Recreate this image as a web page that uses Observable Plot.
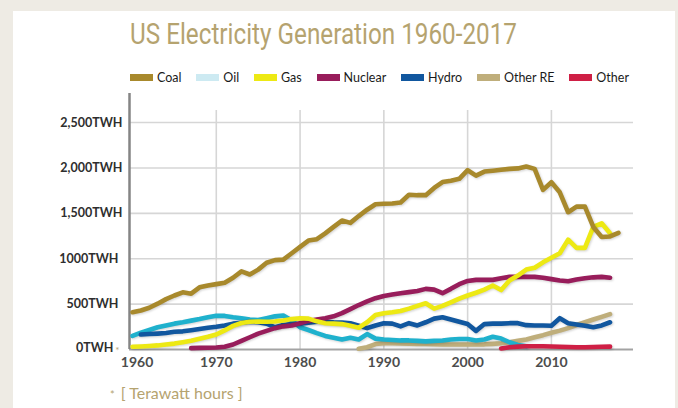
<!DOCTYPE html>
<html><head><meta charset="utf-8">
<script src="https://cdn.jsdelivr.net/npm/d3@7"></script>
<script src="https://cdn.jsdelivr.net/npm/@observablehq/plot@0.6"></script>
<style>
html,body{margin:0;padding:0;background:#eeebe4;width:678px;height:408px;overflow:hidden;font-family:Lato,"Open Sans",sans-serif;}
#panel{position:absolute;left:13px;top:11px;width:662px;height:420px;background:#fff;}
#head{position:absolute;left:0;top:0;}
#legend{position:absolute;left:130px;top:70px;width:499px;height:15px;display:flex;justify-content:space-between;align-items:center;font-size:12.5px;color:#1a1a1a;}
.item{display:flex;align-items:center;white-space:nowrap;}
.sw{width:23px;height:7px;margin-right:4px;}
#chart{position:absolute;left:0;top:88px;}
#chart g[aria-label="line"] path{filter:drop-shadow(1px 1.5px 1px rgba(0,0,0,0.18));}
#caption{position:absolute;left:110px;top:383px;font-size:16px;color:#b5a36f;white-space:nowrap;}
#caption .ast{font-size:11px;margin-right:6px;}
</style></head><body>
<div id="panel"></div>
<svg id="head" width="678" height="60"><text x="130" y="44" textLength="387" lengthAdjust="spacingAndGlyphs" font-family="Roboto" font-size="29" fill="#b5a36f">US Electricity Generation 1960-2017</text></svg>
<div id="legend"></div>
<div id="chart"></div>
<div id="caption"><span class="ast">*</span>[ Terawatt hours ]</div>
<script>
// ---- data (TWh) ----
const years = [1960,1961,1962,1963,1964,1965,1966,1967,1968,1969,
  1970,1971,1972,1973,1974,1975,1976,1977,1978,1979,
  1980,1981,1982,1983,1984,1985,1986,1987,1988,1989,
  1990,1991,1992,1993,1994,1995,1996,1997,1998,1999,
  2000,2001,2002,2003,2004,2005,2006,2007,2008,2009,
  2010,2011,2012,2013,2014,2015,2016,2017,2018];
const coal = [410,430,460,505,555,595,630,615,685,705,
  720,735,790,860,826,880,955,985,990,1060,
  1130,1200,1215,1280,1350,1420,1395,1470,1540,1600,
  1605,1608,1620,1705,1700,1700,1780,1845,1860,1880,
  1975,1916,1960,1970,1980,1990,1995,2015,1990,1758,
  1842,1732,1512,1574,1574,1350,1240,1245,1285];
const oil = [150,185,215,245,265,285,300,318,335,355,
  372,370,355,345,330,325,345,365,375,320,
  245,215,180,150,130,110,130,110,170,120,
  110,105,100,100,95,90,95,100,110,115,
  115,100,110,140,120,80,50,35,null,null,
  null,null,null,null,null,null,null,null,null];
const gas = [30,33,38,45,55,65,80,97,118,140,
  165,210,260,292,305,308,305,308,320,335,
  345,340,310,290,285,280,262,240,300,380,
  400,410,425,450,480,510,450,480,520,560,
  595,625,660,705,655,760,815,880,900,960,
  1010,1060,1210,1120,1120,1350,1390,1280,null];
const nuclear = [null,null,null,null,null,null,null,15,18,20,
  22,30,55,95,135,175,205,235,255,265,
  290,315,330,345,365,400,445,490,530,565,
  590,605,620,632,645,668,660,620,668,720,
  755,767,767,767,785,800,800,800,800,790,
  775,760,752,770,785,795,800,790,null];
const hydro = [null,165,170,175,182,195,200,212,225,240,
  250,265,285,295,305,300,285,245,270,280,
  283,295,305,305,300,298,290,262,235,265,
  290,285,255,290,265,300,340,355,330,305,
  280,205,280,285,285,290,290,268,265,265,
  262,345,290,275,262,245,265,300,null];
const otherRE = [null,null,null,null,null,null,null,null,null,null,
  null,null,null,null,null,null,null,null,null,null,
  null,null,null,null,null,null,null,8,25,60,
  70,70,68,65,62,60,57,56,55,55,
  55,55,57,62,68,80,95,110,135,158,
  185,208,235,270,300,330,360,390,null];
const other = [null,null,null,null,null,null,null,null,null,null,
  null,null,null,null,null,null,null,null,null,null,
  null,null,null,null,null,null,null,null,null,null,
  null,null,null,null,null,null,null,null,null,null,
  null,null,null,null,12,25,32,35,36,35,
  33,30,28,25,25,27,30,32,null];

const seriesNames = ["Coal","Oil","Gas","Nuclear","Hydro","Other RE","Other"];
const seriesValues = [coal, oil, gas, nuclear, hydro, otherRE, other];
const yTicks = [0,500,1000,1500,2000,2500];
const yTickLabels = ["0TWH","500TWH","1000TWH","1,500TWH","2,000TWH","2,500TWH"];
const xTicks = [1960,1970,1980,1990,2000,2010];
const xTickLabels = ["1960","1970","1980","1990","2000","2010"];

// ---- styles ----
const lineColors = {"Coal":"#a8892c","Oil":"#1fb1cd","Gas":"#ede914","Nuclear":"#981d5b","Hydro":"#11579f","Other RE":"#bfae7b","Other":"#cf1f45"};
const swatchColors = {"Coal":"#a8892c","Oil":"#cdeaf2","Gas":"#ede914","Nuclear":"#981d5b","Hydro":"#11579f","Other RE":"#bfae7b","Other":"#cf1f45"};
const drawOrder = ["Other RE","Oil","Hydro","Nuclear","Gas","Other","Coal"];

// legend
const legend = document.getElementById("legend");
seriesNames.forEach(n => {
  const it = document.createElement("div"); it.className = "item";
  const sw = document.createElement("div"); sw.className = "sw"; sw.style.background = swatchColors[n];
  const tx = document.createElement("span"); tx.textContent = n;
  it.appendChild(sw); it.appendChild(tx); legend.appendChild(it);
});

const rowsFor = name => {
  const vals = seriesValues[seriesNames.indexOf(name)];
  return years.map((yr, i) => ({year: yr, value: vals[i]})).filter(d => d.value != null);
};

const x0 = 1959.64, x1 = 2019.8, yMax = 2820;
const tickFont = {fontFamily: "Lato", fontWeight: "bold"};
const chart = Plot.plot({
  width: 678, height: 300,
  marginLeft: 129, marginRight: 45, marginTop: 5, marginBottom: 39,
  style: {background: "transparent", fontFamily: "Lato"},
  x: {domain: [x0, x1], axis: null},
  y: {domain: [0, yMax], axis: null},
  marks: [
    Plot.ruleY(yTicks.filter(v => v > 0), {x1: x0, x2: x1, stroke: "#d6d6d6", strokeWidth: 1.6}),
    Plot.ruleX(xTicks.filter(v => v > 1960), {y1: 0, y2: 2633, stroke: "#d6d6d6", strokeWidth: 1.6}),
    Plot.ruleY([0], {x1: x0, x2: x1, stroke: "#a3a3a3", strokeWidth: 2}),
    Plot.ruleX([x0], {y1: 0, y2: yMax, stroke: "#858585", strokeWidth: 2.5}),
    ...drawOrder.map(n => Plot.lineY(rowsFor(n), {x: "year", y: "value", stroke: lineColors[n], strokeWidth: 4.6, strokeLinecap: "round", strokeLinejoin: "round"})),
    Plot.text(yTicks.filter(v => v >= 1500), {x: x0, y: d => d, text: d => yTickLabels[yTicks.indexOf(d)], textAnchor: "end", dx: -7, fontSize: 12.5, fill: "#2e2e2e", ...tickFont}),
    Plot.text(yTicks.filter(v => v > 0 && v < 1500), {x: x0, y: d => d, text: d => yTickLabels[yTicks.indexOf(d)], textAnchor: "end", dx: -11, fontSize: 12.5, fill: "#2e2e2e", ...tickFont}),
    Plot.text(yTicks.filter(v => v === 0), {x: x0, y: d => d, text: d => yTickLabels[yTicks.indexOf(d)], textAnchor: "end", dx: -16, dy: -2, fontSize: 12.5, fill: "#2e2e2e", ...tickFont}),
    Plot.text(["*"], {x: x0, y: 0, text: d => d, textAnchor: "end", dx: -10, dy: 1, fontSize: 10, fill: "#b5a36f"}),
    Plot.text(xTicks.filter(v => v > 1960), {x: d => d, y: 0, text: d => xTickLabels[xTicks.indexOf(d)], dy: 13, fontSize: 14, fill: "#4d4d4d", ...tickFont}),
    Plot.text(xTicks.filter(v => v === 1960), {x: d => d, y: 0, text: d => xTickLabels[xTicks.indexOf(d)], dy: 13, dx: 4.5, fontSize: 14, fill: "#4d4d4d", ...tickFont})
  ]
});
document.getElementById("chart").appendChild(chart);
</script>
</body></html>
